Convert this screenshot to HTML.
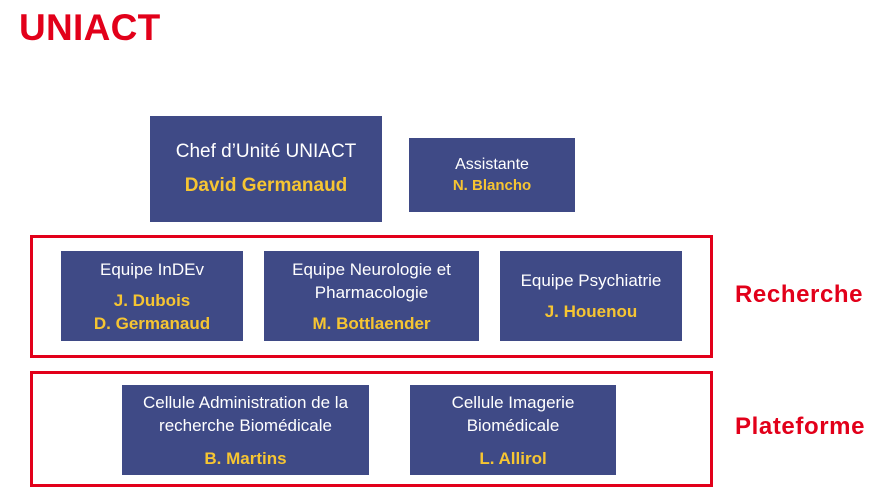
<!DOCTYPE html><html><head><style>
body{margin:0;width:888px;height:504px;background:#fff;position:relative;overflow:hidden;font-family:"Liberation Sans",sans-serif}
.b{position:absolute;background:#3f4a86;color:#fff;display:flex;flex-direction:column;align-items:center;justify-content:center;text-align:center;font-size:17px;line-height:23px}
.y{color:#f6c532;font-weight:bold}
.r{position:absolute;border:3px solid #e2001a;box-sizing:border-box}
.l{position:absolute;color:#e2001a;font-weight:bold;font-size:24px;letter-spacing:0.6px}
</style></head><body>
<div class="l" style="left:19px;top:7px;font-size:37px;letter-spacing:0.3px">UNIACT</div>
<div class="b" style="left:150px;top:116px;width:232px;height:106px;font-size:19px;line-height:34px">Chef d’Unité UNIACT<span class="y">David Germanaud</span></div>
<div class="b" style="left:409px;top:138px;width:166px;height:74px;font-size:16px;line-height:21px">Assistante<span class="y" style="font-size:15px">N. Blancho</span></div>
<div class="r" style="left:30px;top:235px;width:683px;height:123px"></div>
<div class="r" style="left:30px;top:371px;width:683px;height:116px"></div>
<div class="b" style="left:61px;top:251px;width:182px;height:90px">Equipe InDEv<div style="height:8px"></div><span class="y">J. Dubois</span><span class="y">D. Germanaud</span></div>
<div class="b" style="left:264px;top:251px;width:215px;height:90px">Equipe Neurologie et<br>Pharmacologie<div style="height:8px"></div><span class="y">M. Bottlaender</span></div>
<div class="b" style="left:500px;top:251px;width:182px;height:90px">Equipe Psychiatrie<div style="height:8px"></div><span class="y">J. Houenou</span></div>
<div class="b" style="left:122px;top:385px;width:247px;height:90px">Cellule Administration de la<br>recherche Biomédicale<div style="height:10px"></div><span class="y">B. Martins</span></div>
<div class="b" style="left:410px;top:385px;width:206px;height:90px">Cellule Imagerie<br>Biomédicale<div style="height:10px"></div><span class="y">L. Allirol</span></div>
<div class="l" style="left:735px;top:281px">Recherche</div>
<div class="l" style="left:735px;top:413px">Plateforme</div>
</body></html>
